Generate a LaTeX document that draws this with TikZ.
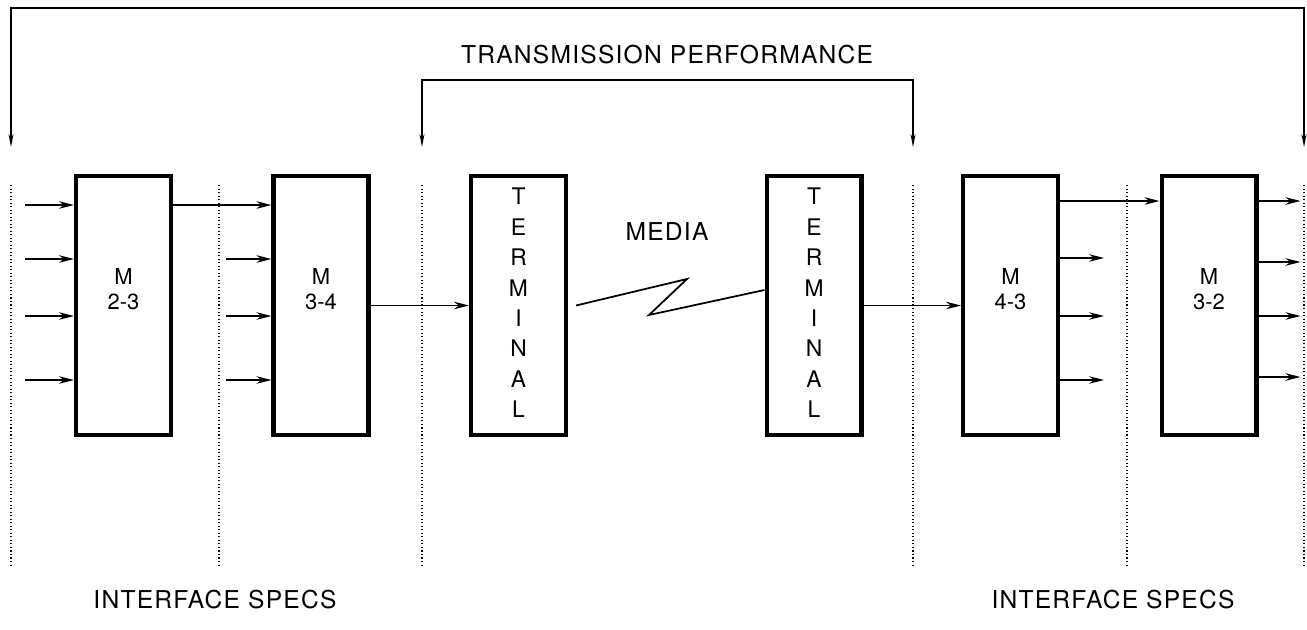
\documentclass[tikz,border=0pt]{standalone}
\usepackage{fontspec}
\setmainfont{TeX Gyre Heros}
\newfontfamily\spacedfont[LetterSpace=5]{TeX Gyre Heros}
\usetikzlibrary{arrows.meta}

\newcommand{\termword}{T\\[1.3pt]E\\[1.3pt]R\\[1.3pt]M\\[1.3pt]I\\[1.3pt]N\\[1.3pt]A\\[1.3pt]L}

\tikzset{
  blockbox/.style={draw, line width=2.3pt, minimum width=1.9cm, minimum height=5.18cm,
    align=center, inner sep=0pt, text depth=0.65cm, font=\fontsize{12.5}{14}\selectfont},
  termbox/.style={blockbox, text depth=0.1cm, font=\fontsize{13}{16}\selectfont},
  flow/.style={line width=1pt, -{Stealth[length=0.3cm,width=0.15cm]}},
  wire/.style={line width=1pt},
  drop/.style={line width=0.8pt, {Stealth[length=0.26cm,width=0.1cm]}-{Stealth[length=0.26cm,width=0.1cm]}},
  specline/.style={line width=0.9pt, dash pattern=on 0.6pt off 1.4pt},
  caption/.style={font=\spacedfont\fontsize{14}{16}\selectfont}
}

\begin{document}
\begin{tikzpicture}[x=0.02cm, y=-0.02cm]
  \useasboundingbox (0,0) rectangle (1307,629);

  % blocks
  \node[blockbox] (M23) at (123.5,305.5) {M\\2-3};
  \node[blockbox] (M34) at (321,305.5) {M\\3-4};
  \node[termbox] (T1) at (518.5,305.5) {\termword};
  \node[termbox] (T2) at (814,305.5) {\termword};
  \node[blockbox] (M43) at (1010.5,305.5) {M\\4-3};
  \node[blockbox] (M32) at (1209,305.5) {M\\3-2};

  % interface boundaries
  \foreach \x in {11,219,422,913,1127,1304}
    \draw[specline] (\x,185) -- (\x,567);

  \coordinate (specL) at (11,147);
  \coordinate (specR) at (1304,147);
  \coordinate (tpL) at (422,147);
  \coordinate (tpR) at (913,147);

  \draw[drop] (specL) -- (specL |- 0,8) -| (specR);
  \draw[drop] (tpL) -- (tpL |- 0,80) -| (tpR);

  % inputs
  \foreach \y in {205,259,316,380}
    \draw[flow] (25,\y) -- (M23.west |- 0,\y);
  \draw[flow] (M23.east |- 0,205) -- (M34.west |- 0,205);
  \foreach \y in {259,316,380}
    \draw[flow] (226,\y) -- (M34.west |- 0,\y);

  \draw[flow] (M34) -- (T1);
  \draw[wire] ([xshift=0.16cm]T1.east) -- (687,279) -- (649,315) -- (T2.west |- 0,290);
  \draw[flow] (T2) -- (M43);

  % outputs
  \draw[flow] (M43.east |- 0,201) -- (M32.west |- 0,201);
  \foreach \y in {258,316,380}
    \draw[flow] (M43.east |- 0,\y) -- ++(44,0);
  \foreach \y in {201,262,316,377}
    \draw[flow] (M32.east |- 0,\y) -- ++(42,0);

  % labels
  \node[caption] (tp) at (667,55) {TRANSMISSION PERFORMANCE};
  \node[caption] (media) at (667,232) {MEDIA};
  \node[caption] (specsL) at (215,600) {INTERFACE SPECS};
  \node[caption] (specsR) at (1113,600) {INTERFACE SPECS};
\end{tikzpicture}
\end{document}
